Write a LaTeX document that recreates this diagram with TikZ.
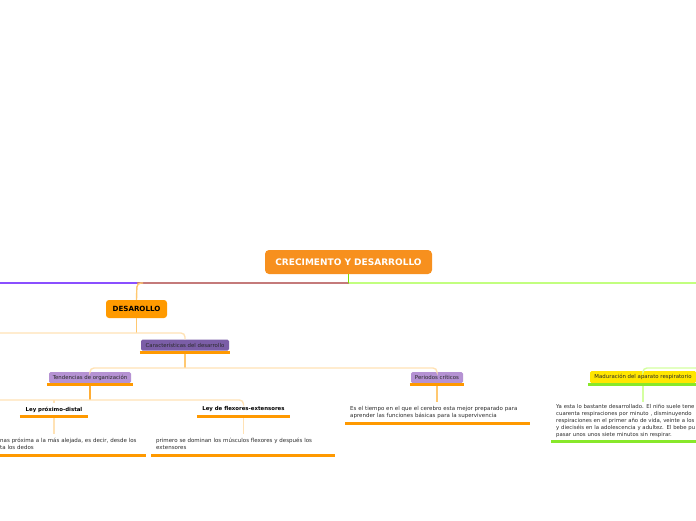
\documentclass[tikz,border=0pt]{standalone}
\usepackage{fontspec}
\setmainfont{DejaVu Sans}
\definecolor{mainorange}{HTML}{F7901E}
\definecolor{desorange}{HTML}{FF9A00}
\definecolor{uorange}{HTML}{FF9900}
\definecolor{darkpurple}{HTML}{7B5EA7}
\definecolor{lightpurple}{HTML}{B592D3}
\definecolor{violetline}{HTML}{8A4FFF}
\definecolor{pinkline}{HTML}{C47A7A}
\definecolor{lgreenline}{HTML}{C2FF7F}
\definecolor{greenline}{HTML}{7FE000}
\definecolor{lightorange}{HTML}{FFC870}
\definecolor{peach}{HTML}{FFE2B5}
\definecolor{ygreen}{HTML}{88E82A}
\definecolor{yellowbox}{HTML}{FFE600}
\definecolor{paleg}{HTML}{D4FFA0}
\definecolor{txt}{HTML}{2A2A2A}
\tikzset{
  mainbox/.style={fill=mainorange, rounded corners=4pt, text=white, font=\bfseries\fontsize{9}{10}\selectfont, minimum width=167pt, minimum height=24pt, inner sep=0pt},
  desbox/.style={fill=desorange, rounded corners=3pt, text=black, font=\bfseries\fontsize{7.1}{8}\selectfont, minimum width=61pt, minimum height=18pt, inner sep=0pt},
  subbox/.style={rounded corners=1.5pt, text=txt, font=\fontsize{5.4}{6}\selectfont, minimum height=11pt, inner sep=0pt},
  leybox/.style={text=black, font=\bfseries\fontsize{5.4}{6}\selectfont, minimum height=12pt, inner sep=0pt},
  txtbox/.style={anchor=north west, text=txt, font=\fontsize{5.5}{7}\selectfont, align=left, inner xsep=5pt, inner ysep=0pt},
  uline/.style={draw=uorange, line width=3pt},
  gline/.style={draw=ygreen, line width=3pt},
  mainline/.style={line width=2pt},
  conn/.style={line width=1.4pt, rounded corners=4pt},
}
\begin{document}
\begin{tikzpicture}[x=1pt,y=-1pt]
\useasboundingbox (0,0) rectangle (696,520);
\clip (0,0) rectangle (696,520);

% nodes
\node[mainbox] (main) at (348.5,262) {CRECIMENTO Y DESARROLLO};
\node[desbox] (des) at (136.5,309) {DESAROLLO};
\node[subbox, fill=darkpurple, minimum width=88pt] (car) at (185,345) {Características del desarrollo};
\node[subbox, fill=lightpurple, minimum width=82pt] (tend) at (90,377.5) {Tendencias de organización};
\node[subbox, fill=lightpurple, minimum width=52pt] (per) at (437,377.5) {Periodos críticos};
\node[subbox, fill=yellowbox, minimum width=106pt, minimum height=12pt] (mad) at (643,377) {Maduración del aparato respiratorio};
\node[leybox, minimum width=68pt] (ley1) at (54,409.5) {Ley próximo-distal};
\node[leybox, minimum width=93pt] (ley2) at (243.5,409.5) {Ley de flexores-extensores};

\node[txtbox, text width=141pt, minimum height=20pt] (t1) at (-5,434) {nas próxima a la más alejada, es decir, desde los\\ta los dedos};
\node[txtbox, text width=174pt, minimum height=20pt] (t2) at (151,434) {primero se dominan los músculos flexores y después los\\extensores};
\node[txtbox, text width=175pt, minimum height=20pt] (t3) at (345,402) {Es el tiempo en el que el cerebro esta mejor preparado para\\aprender las funciones básicas para la supervivencia};
\node[txtbox, font=\fontsize{5.35}{7}\selectfont, text width=160pt, minimum height=39pt] (t4) at (551,401.5) {Ya esta lo bastante desarrollado. El niño suele tene\\cuarenta respiraciones por minuto , disminuyendo\\respiraciones en el primer año de vida, veinte a los\\y dieciséis en la adolescencia y adultez. El bebe pu\\pasar unos unos siete minutos sin respirar.};

% coordinates for free ends
\coordinate (mL) at (0,283);
\coordinate (mR) at (696,283);
\coordinate (mJ) at (137,283);
\coordinate (mC) at (main.south |- mJ);
\coordinate (dL) at (0,333);
\coordinate (cJ) at (car.north |- dL);
\coordinate (lL) at (0,400);
\coordinate (gR) at (700,368);

% main line
\draw[mainline, violetline] (mL) -- (mJ);
\draw[mainline, pinkline] (mJ) -- (mC);
\draw[mainline, lgreenline] (mC) -- (mR);
\draw[line width=1.2pt, greenline] (main.south) -- (mC);
\draw[conn, lightorange] ([xshift=6pt]mJ) -- (mJ) -- (des.north);

% desarrollo -> caracteristicas
\draw[conn, lightorange] (des.south) -- (des.south |- dL);
\draw[conn, peach] (dL) -- (cJ) -- (car.north);

% caracteristicas -> tendencias / periodos
\draw[uline] ([xshift=-1pt,yshift=-1.5pt]car.south west) -- ([xshift=1pt,yshift=-1.5pt]car.south east);
\draw[conn, lightorange] ([yshift=-3pt]car.south) -- (car.south |- 0,368);
\draw[conn, peach] (tend.north) -- (tend.north |- 0,368) -- (per.north |- 0,368) -- (per.north);

% tendencias -> leyes
\draw[uline] ([xshift=-2pt,yshift=-1.5pt]tend.south west) -- ([xshift=2pt,yshift=-1.5pt]tend.south east);
\draw[conn, uorange!80] ([yshift=-3pt]tend.south) -- (tend.south |- lL);
\draw[conn, peach] (lL) -- (ley2.north |- lL) -- (ley2.north);
\draw[conn, peach] (ley1.north |- lL) -- (ley1.north);

% leyes -> texts
\draw[uline] ([yshift=-1pt]ley1.south west) -- ([yshift=-1pt]ley1.south east);
\draw[uline] ([yshift=-1pt]ley2.south west) -- ([yshift=-1pt]ley2.south east);
\draw[conn, peach] ([yshift=-2.5pt]ley1.south) -- (ley1.south |- t1.north);
\draw[conn, peach] ([yshift=-2.5pt]ley2.south) -- (ley2.south |- t2.north);
\draw[uline] ([yshift=-1pt]t1.south west) -- ([yshift=-1pt]t1.south east);
\draw[uline] ([yshift=-1pt]t2.south west) -- ([yshift=-1pt]t2.south east);

% periodos -> text
\draw[uline] ([xshift=-1pt,yshift=-1.5pt]per.south west) -- ([xshift=1pt,yshift=-1.5pt]per.south east);
\draw[conn, lightorange] ([yshift=-3pt]per.south) -- (per.south |- t3.north);
\draw[uline] ([yshift=-1pt]t3.south west) -- ([yshift=-1pt]t3.south east);

% maduracion
\draw[conn, paleg] (mad.north) -- (mad.north |- gR) -- (gR);
\draw[gline] ([xshift=-2pt,yshift=-1.5pt]mad.south west) -- ([xshift=6pt,yshift=-1.5pt]mad.south east);
\draw[conn, paleg] ([yshift=-3pt]mad.south) -- (mad.south |- t4.north);
\draw[gline] ([yshift=-1pt]t4.south west) -- ([yshift=-1pt]t4.south east);
\end{tikzpicture}
\end{document}
